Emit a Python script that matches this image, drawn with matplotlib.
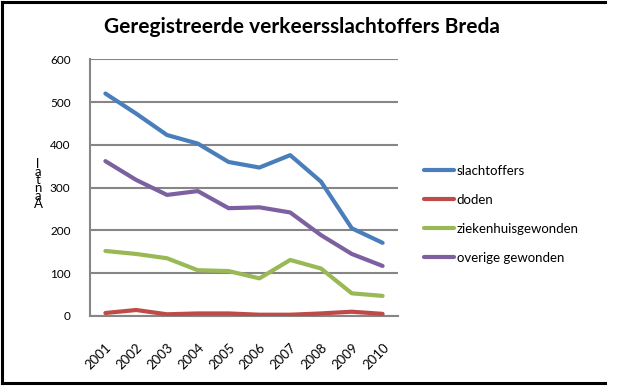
import matplotlib
matplotlib.use("Agg")
import matplotlib.pyplot as plt
from matplotlib.lines import Line2D

years = ["2001", "2002", "2003", "2004", "2005", "2006", "2007", "2008", "2009", "2010"]
slachtoffers = [520, 473, 423, 403, 360, 347, 376, 314, 205, 171]
doden = [7, 14, 4, 6, 6, 3, 3, 6, 10, 5]
ziekenhuisgewonden = [152, 145, 135, 107, 105, 88, 131, 111, 53, 47]
overige_gewonden = [362, 318, 283, 292, 252, 254, 242, 189, 145, 117]

series_names = ["slachtoffers", "doden", "ziekenhuisgewonden", "overige gewonden"]
colors = ["#4A7EBB", "#BE4B48", "#98B954", "#7D60A0"]
yticks = [0, 100, 200, 300, 400, 500, 600]

plt.rcParams['font.family'] = ['Lato', 'DejaVu Sans']

W, H = 640, 387
fig = plt.figure(figsize=(6.4, 3.87), dpi=100)
fig.patch.set_facecolor("white")

ax = fig.add_axes([90 / W, 1 - 316 / H, (398 - 90) / W, (316 - 59.3) / H])
x = list(range(len(years)))
for vals, name, c in zip([slachtoffers, doden, ziekenhuisgewonden, overige_gewonden], series_names, colors):
    ax.plot(x, vals, color=c, lw=3, label=name, solid_joinstyle="round", solid_capstyle="round", zorder=3)

ax.set_xlim(-0.5, len(years) - 0.5)
ax.set_ylim(0, 600)
ax.set_yticks(yticks)
ax.set_yticklabels([str(v) for v in yticks], fontsize=8.5)
ax.set_xticks(x)
ax.set_xticklabels(years, rotation=45, ha="right", rotation_mode="anchor", fontsize=9.5)
ax.tick_params(axis="y", length=0, pad=14)
ax.tick_params(axis="x", length=0, pad=18)
ax.grid(axis="y", color="#868686", lw=1.5, zorder=1)
ax.set_axisbelow(True)
for s in ["top", "right"]:
    ax.spines[s].set_visible(False)
for s in ["left", "bottom"]:
    ax.spines[s].set_color("#868686")
    ax.spines[s].set_linewidth(1.5)

fig.text(302 / W, 1 - 27 / H, "Geregistreerde verkeersslachtoffers Breda",
         ha="center", va="center", fontsize=15, fontweight="bold")

# stacked y-axis label as rendered in the reference
fig.text(38 / W, 1 - 184 / H, "l\na\nt\nn\na\nA", ha="center", va="center",
         fontsize=9.5, linespacing=0.6)

leg = ax.legend(loc="upper left", bbox_to_anchor=(412 / W, 1 - 153 / H),
                bbox_transform=fig.transFigure, frameon=False, fontsize=9.5,
                handlelength=2.3, handletextpad=0.2, labelspacing=1.28)

# outer border
lw = 2.2
fig.add_artist(Line2D([2 / W, 2 / W], [1 - 2 / H, 1 - 383 / H], color="black", lw=lw, transform=fig.transFigure))
fig.add_artist(Line2D([2 / W, 605 / W], [1 - 2 / H, 1 - 2 / H], color="black", lw=lw, transform=fig.transFigure))
fig.add_artist(Line2D([2 / W, 605 / W], [1 - 383 / H, 1 - 383 / H], color="black", lw=lw, transform=fig.transFigure))

fig.savefig("out.png", dpi=100)
